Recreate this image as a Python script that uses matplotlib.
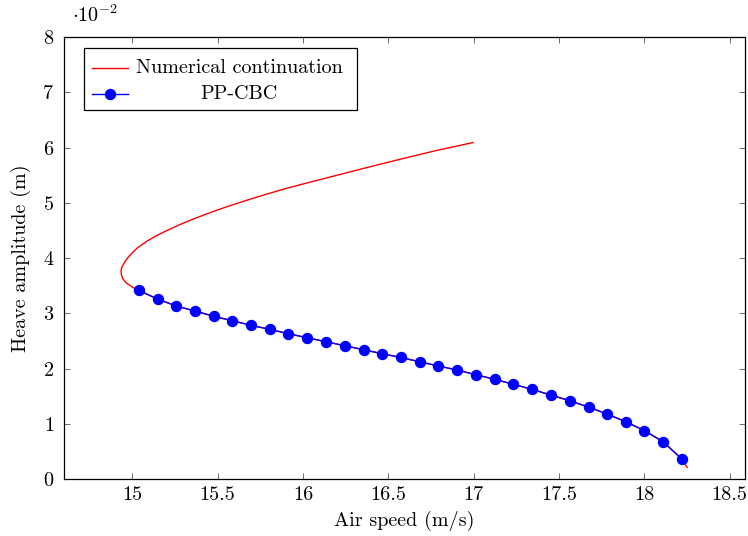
import matplotlib
matplotlib.use("Agg")
import matplotlib.pyplot as plt
from matplotlib.patches import Rectangle

plt.rcParams['font.family'] = 'serif'
plt.rcParams['font.serif'] = ['cmr10', 'DejaVu Serif']
plt.rcParams['mathtext.fontset'] = 'cm'
plt.rcParams['axes.formatter.use_mathtext'] = True
plt.rcParams['font.size'] = 14.5

# numerical continuation branch (amplitude in 1e-2 m)
cont_speed = [18.251, 18.220, 18.110, 18.001, 17.891, 17.782, 17.673, 17.563,
              17.452, 17.342, 17.233, 17.123, 17.013, 16.904, 16.794, 16.683,
              16.572, 16.465, 16.355, 16.245, 16.134, 16.025, 15.915, 15.805,
              15.696, 15.587, 15.477, 15.368, 15.258, 15.148, 15.037, 15.002,
              14.963, 14.943, 14.936, 14.934, 14.938, 14.949, 14.963, 14.982,
              15.005, 15.031, 15.060, 15.090, 15.138, 15.188, 15.286, 15.381,
              15.481, 15.580, 15.680, 15.780, 15.890, 16.000, 16.195, 16.390,
              16.585, 16.780, 16.996]
cont_amp = [0.212, 0.360, 0.675, 0.874, 1.037, 1.176, 1.303, 1.417,
            1.520, 1.624, 1.714, 1.805, 1.888, 1.973, 2.045, 2.123,
            2.200, 2.268, 2.340, 2.413, 2.485, 2.557, 2.630, 2.709,
            2.782, 2.865, 2.945, 3.041, 3.131, 3.258, 3.415, 3.470,
            3.553, 3.633, 3.700, 3.770, 3.830, 3.891, 3.965, 4.036,
            4.110, 4.186, 4.250, 4.313, 4.398, 4.476, 4.615, 4.735,
            4.850, 4.955, 5.055, 5.150, 5.250, 5.340, 5.495, 5.650,
            5.800, 5.945, 6.090]

# PP-CBC measurements
cbc_speed = [15.037, 15.148, 15.258, 15.368, 15.477, 15.587, 15.696, 15.805,
             15.915, 16.025, 16.134, 16.245, 16.355, 16.465, 16.572, 16.683,
             16.794, 16.904, 17.013, 17.123, 17.233, 17.342, 17.452, 17.563,
             17.673, 17.782, 17.891, 18.001, 18.110, 18.220]
cbc_amp = [3.415, 3.258, 3.131, 3.041, 2.945, 2.865, 2.782, 2.709,
           2.630, 2.557, 2.485, 2.413, 2.340, 2.268, 2.200, 2.123,
           2.045, 1.973, 1.888, 1.805, 1.714, 1.624, 1.520, 1.417,
           1.303, 1.176, 1.037, 0.874, 0.675, 0.362]

xticks = [15, 15.5, 16, 16.5, 17, 17.5, 18, 18.5]
xticklabels = ['15', '15.5', '16', '16.5', '17', '17.5', '18', '18.5']
yticks = [0, 1, 2, 3, 4, 5, 6, 7, 8]

fig = plt.figure(figsize=(7.48, 5.36), dpi=100)
ax = fig.add_axes([0.0856, 0.1063, 0.9104, 0.8246])

ax.plot(cont_speed, cont_amp, color='red', lw=1.0, zorder=2)
ax.plot(cbc_speed, cbc_amp, color='blue', lw=1.0, marker='o', ms=7.2,
        zorder=3)

ax.set_xlim(14.6, 18.59)
ax.set_ylim(0, 8)
ax.set_xticks(xticks)
ax.set_xticklabels(xticklabels)
ax.set_yticks(yticks)
ax.tick_params(direction='in', length=4, width=0.6, color='#555555',
               top=True, right=True, labelsize=14.5)
ax.tick_params(axis='x', pad=5)
ax.tick_params(axis='y', pad=7)
for s in ax.spines.values():
    s.set_linewidth(0.9)

ax.set_xlabel('Air speed (m/s)', fontsize=14.5, labelpad=5)
ax.set_ylabel('Heave amplitude (m)', fontsize=14.5, labelpad=8)
ax.text(0.012, 1.05, r'$\cdot 10^{-2}$', transform=ax.transAxes,
        fontsize=14.5, va='center', ha='left')

# legend box drawn by hand so the entries are centred like pgfplots
ax.add_patch(Rectangle((0.0294, 0.835), 0.4006, 0.140, transform=ax.transAxes,
                       fill=True, facecolor='white', edgecolor='black',
                       lw=0.9, zorder=5))
ax.plot([0.0407, 0.0935], [0.929, 0.929], transform=ax.transAxes,
        color='red', lw=1.0, zorder=6, clip_on=False)
ax.plot([0.0407, 0.0935], [0.870, 0.870], transform=ax.transAxes,
        color='blue', lw=1.0, zorder=6, clip_on=False)
ax.plot([0.0671], [0.870], transform=ax.transAxes, color='blue',
        marker='o', ms=7.2, zorder=6, clip_on=False)
ax.text(0.257, 0.929, 'Numerical continuation', transform=ax.transAxes,
        ha='center', va='center', fontsize=14.5, zorder=6)
ax.text(0.257, 0.870, 'PP-CBC', transform=ax.transAxes,
        ha='center', va='center', fontsize=14.5, zorder=6)

fig.savefig('out.png', dpi=100)
